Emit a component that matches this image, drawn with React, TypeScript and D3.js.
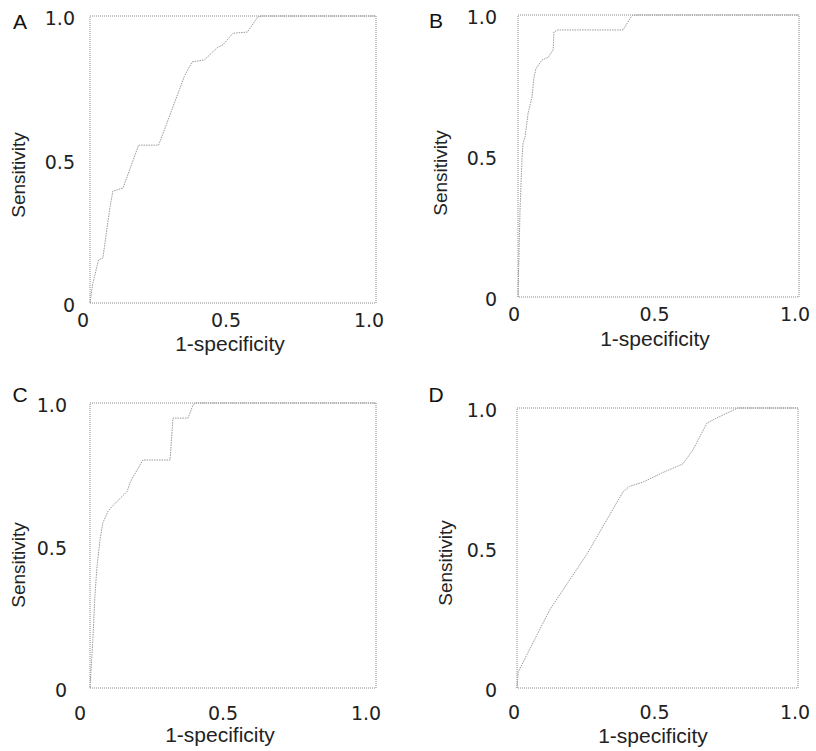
import React from "react";
import * as d3 from "d3";

// ROC curves: [1-specificity, sensitivity]
const rocA: [number, number][] = [
  [0, 0], [0.01, 0.07], [0.03, 0.15], [0.045, 0.157], [0.07, 0.335], [0.08, 0.39],
  [0.115, 0.4], [0.17, 0.55], [0.24, 0.55], [0.33, 0.79], [0.357, 0.84], [0.4, 0.847],
  [0.445, 0.89], [0.465, 0.9], [0.5, 0.94], [0.55, 0.944], [0.587, 0.997], [0.6, 1], [1, 1],
];
const rocB: [number, number][] = [
  [0, 0], [0.007, 0.3], [0.014, 0.486], [0.018, 0.546], [0.025, 0.567], [0.036, 0.652],
  [0.05, 0.71], [0.057, 0.78], [0.064, 0.81], [0.085, 0.84], [0.107, 0.85], [0.125, 0.876],
  [0.128, 0.94], [0.142, 0.947], [0.374, 0.947], [0.4, 0.99], [0.41, 1], [1, 1],
];
const rocC: [number, number][] = [
  [0, 0], [0.01, 0.17], [0.017, 0.32], [0.024, 0.42], [0.035, 0.52], [0.045, 0.58],
  [0.063, 0.62], [0.08, 0.64], [0.13, 0.69], [0.14, 0.72], [0.15, 0.74], [0.165, 0.765],
  [0.185, 0.8], [0.28, 0.8], [0.29, 0.947], [0.343, 0.947], [0.36, 0.993], [0.37, 1], [1, 1],
];
const rocD: [number, number][] = [
  [0, 0], [0.004, 0.057], [0.117, 0.28], [0.25, 0.48], [0.377, 0.7], [0.4, 0.72],
  [0.45, 0.736], [0.52, 0.77], [0.59, 0.8], [0.626, 0.85], [0.676, 0.946], [0.71, 0.964],
  [0.786, 1], [1, 1],
];

const xTicks = [0, 0.5, 1];
const xTickLabels = ["0", "0.5", "1.0"];
const yTicks = [0, 0.5, 1];
const yTickLabels = ["0", "0.5", "1.0"];
const panelNames = ["A", "B", "C", "D"];
const xTitle = "1-specificity";
const yTitle = "Sensitivity";

type Layout = {
  x: number; y: number; w: number; h: number;
  lx: number; ly: number; yTickRight: number;
  xTickDy: number; xTickDx: number;
  titleX: number; titleY: number; yTitleX: number; yTitleY: number;
};

const layouts: Layout[] = [
  { x: 90, y: 16, w: 286, h: 287, lx: 20, ly: 21, yTickRight: 75, xTickDy: 17, xTickDx: -7, titleX: 230, titleY: 343, yTitleX: 18, yTitleY: 175 },
  { x: 518, y: 15, w: 281, h: 282, lx: 436, ly: 20, yTickRight: 497, xTickDy: 17, xTickDx: -4, titleX: 655, titleY: 338, yTitleX: 440, yTitleY: 173 },
  { x: 90, y: 403, w: 286, h: 285, lx: 20, ly: 394, yTickRight: 67, xTickDy: 25, xTickDx: -10, titleX: 220, titleY: 734, yTitleX: 18, yTitleY: 565 },
  { x: 517, y: 408, w: 281, h: 280, lx: 436, ly: 394, yTickRight: 497, xTickDy: 24, xTickDx: -3, titleX: 653, titleY: 735, yTitleX: 445, yTitleY: 563 },
];

const curves = [rocA, rocB, rocC, rocD];

const tickFont = "DejaVu Sans, Verdana, sans-serif";
const labelFont = "Liberation Sans, Arial, sans-serif";

function Panel({ data, name, l }: { data: [number, number][]; name: string; l: Layout }) {
  const x = d3.scaleLinear().domain([0, 1]).range([l.x, l.x + l.w]);
  const y = d3.scaleLinear().domain([0, 1]).range([l.y + l.h, l.y]);
  const line = d3
    .line<[number, number]>()
    .x((d) => x(d[0]))
    .y((d) => y(d[1]));

  return (
    <g>
      <rect
        x={x(0)}
        y={y(1)}
        width={x(1) - x(0)}
        height={y(0) - y(1)}
        fill="none"
        stroke="#8a8a8a"
        strokeWidth={1}
        strokeDasharray="1 1"
      />
      <path d={line(data) || ""} fill="none" stroke="#9a9a9a" strokeWidth={1} strokeDasharray="1.5 1" />
      <text x={l.lx} y={l.ly} fontFamily={labelFont} fontSize={21} fill="#111" textAnchor="middle" dominantBaseline="central">
        {name}
      </text>
      {yTicks.map((t, i) => (
        <text
          key={"y" + i}
          x={l.yTickRight}
          y={y(t) + 2}
          fontFamily={tickFont}
          fontSize={19}
          fill="#222"
          textAnchor="end"
          dominantBaseline="central"
        >
          {yTickLabels[i]}
        </text>
      ))}
      {xTicks.map((t, i) => (
        <text
          key={"x" + i}
          x={x(t) + l.xTickDx}
          y={y(0) + l.xTickDy}
          fontFamily={tickFont}
          fontSize={19}
          fill="#222"
          textAnchor="middle"
          dominantBaseline="central"
        >
          {xTickLabels[i]}
        </text>
      ))}
      <text x={l.titleX} y={l.titleY} fontFamily={labelFont} fontSize={21} fill="#222" textAnchor="middle" dominantBaseline="central">
        {xTitle}
      </text>
      <text
        transform={`translate(${l.yTitleX},${l.yTitleY}) rotate(-90)`}
        fontFamily={labelFont}
        fontSize={19}
        fill="#222"
        textAnchor="middle"
        dominantBaseline="central"
      >
        {yTitle}
      </text>
    </g>
  );
}

export default function App() {
  return (
    <svg
      width={816}
      height={751}
      style={{ position: "absolute", left: 0, top: 0, background: "#fff" }}
    >
      <rect width={816} height={751} fill="#fff" />
      {curves.map((c, i) => (
        <Panel key={i} data={c} name={panelNames[i]} l={layouts[i]} />
      ))}
    </svg>
  );
}
